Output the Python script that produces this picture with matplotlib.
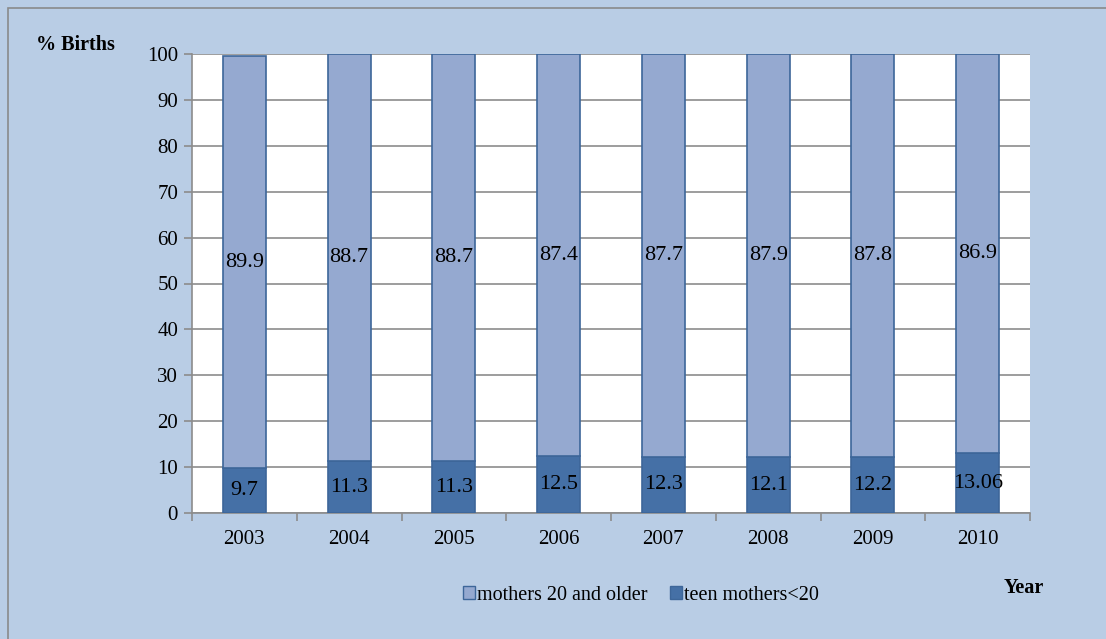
import matplotlib
matplotlib.use("Agg")
import matplotlib.pyplot as plt
from matplotlib.patches import Rectangle, Patch
import numpy as np

years = ["2003", "2004", "2005", "2006", "2007", "2008", "2009", "2010"]
teen = [9.7, 11.3, 11.3, 12.5, 12.3, 12.1, 12.2, 13.06]
older = [89.9, 88.7, 88.7, 87.4, 87.7, 87.9, 87.8, 86.9]
teen_labels = ["9.7", "11.3", "11.3", "12.5", "12.3", "12.1", "12.2", "13.06"]
older_labels = ["89.9", "88.7", "88.7", "87.4", "87.7", "87.9", "87.8", "86.9"]

plt.rcParams['font.family'] = ['Liberation Serif', 'DejaVu Serif']
FS = 14.5
FS_BAR = 16
FS_TICK = 15
bg = '#B9CDE5'
c_old = '#95A9D0'
c_teen = '#4570A6'
c_edge = '#3D6699'

fig = plt.figure(figsize=(11.06, 6.39), dpi=100)
fig.patch.set_facecolor(bg)
fig.patches.append(Rectangle((8/1106, -0.01), 1.1, 1 - 8/639 + 0.01, transform=fig.transFigure,
                             fill=False, edgecolor='#8a8a8a', linewidth=1.2, zorder=0))

ax = fig.add_axes([192/1106, 1 - 513/639, (1030 - 192)/1106, (513 - 54)/639])
ax.set_facecolor('white')
x = np.arange(len(years))
w = 0.41
ax.bar(x, teen, w, color=c_teen, edgecolor=c_edge, linewidth=1.2, zorder=3)
ax.bar(x, older, w, bottom=teen, color=c_old, edgecolor=c_edge, linewidth=1.2, zorder=3)

for i in range(len(years)):
    ax.text(x[i], teen[i] / 2, teen_labels[i], ha='center', va='center', fontsize=FS_BAR, zorder=4)
    ax.text(x[i], teen[i] + older[i] / 2, older_labels[i], ha='center', va='center', fontsize=FS_BAR, zorder=4)

ax.set_xlim(-0.5, len(years) - 0.5)
ax.set_ylim(0, 100)
ax.set_yticks(np.arange(0, 101, 10))
ax.yaxis.grid(True, color='#8c8c8c', linewidth=1.2, zorder=0)
ax.set_axisbelow(True)
ax.set_xticks(x)
ax.set_xticklabels(years, fontsize=FS_TICK)
ax.tick_params(axis='x', length=0, pad=12)
ax.set_xticks(np.arange(-0.5, len(years), 1), minor=True)
ax.tick_params(axis='x', which='minor', length=6, color='#8c8c8c', width=1.2)
ax.tick_params(axis='y', length=6, color='#8c8c8c', width=1.2, labelsize=FS_TICK, pad=4)
for s in ['top', 'right']:
    ax.spines[s].set_visible(False)
for s in ['left', 'bottom']:
    ax.spines[s].set_color('#8c8c8c')
    ax.spines[s].set_linewidth(1.2)

fig.text(75/1106, 1 - 45/639, "% Births", ha='center', va='center', fontsize=FS, fontweight='bold')
fig.text(1024/1106, 1 - 588/639, "Year", ha='center', va='center', fontsize=FS, fontweight='bold')

handles = [Patch(facecolor=c_old, edgecolor=c_edge), Patch(facecolor=c_teen, edgecolor=c_edge)]
leg = fig.legend(handles, ["mothers 20 and older", "teen mothers<20"], loc='center',
                 bbox_to_anchor=(641/1106, 1 - 595/639), ncol=2, frameon=False, fontsize=FS,
                 handlelength=0.6, handleheight=0.6, handletextpad=0.1, columnspacing=1.1)

fig.savefig("out.png", dpi=100, facecolor=bg)
